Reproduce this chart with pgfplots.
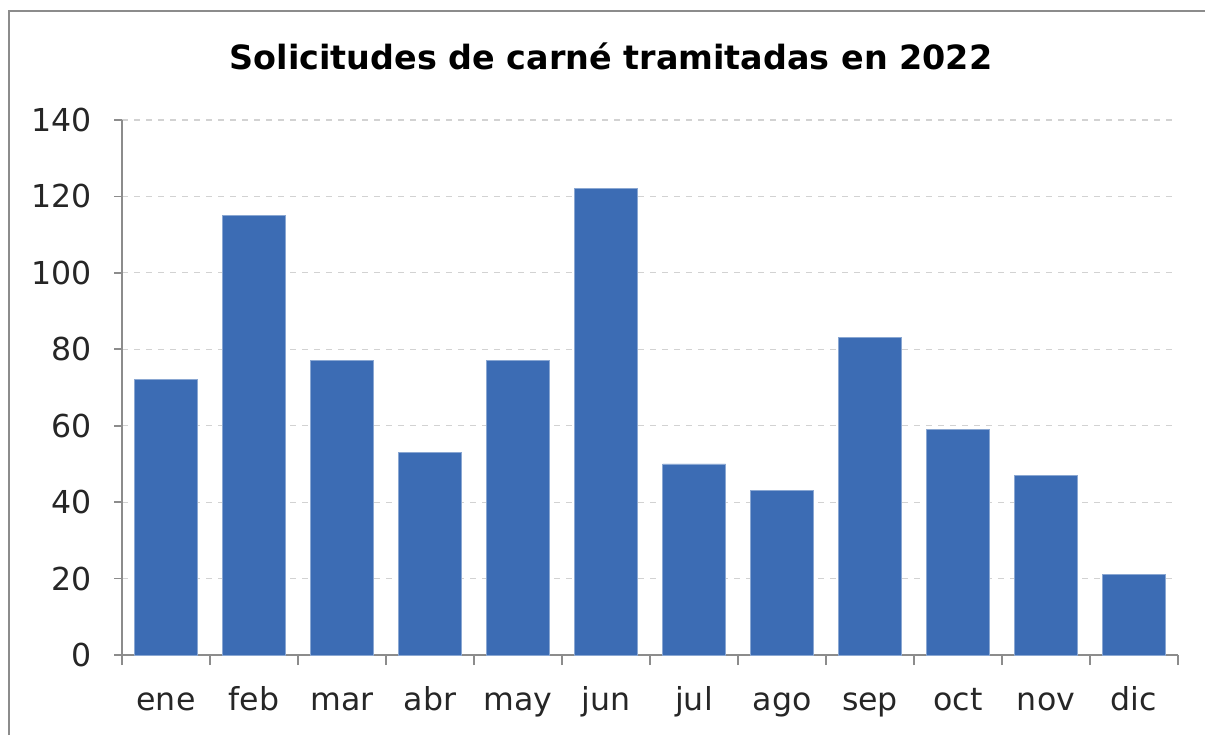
\documentclass[border=0pt]{standalone}
\usepackage{pgfplots}
\pgfplotsset{compat=1.18}
\usepackage{fontspec}
\setmainfont{DejaVu Sans}
\definecolor{barblue}{RGB}{60,108,180}
\definecolor{axgray}{RGB}{140,140,140}
\definecolor{gridgray}{RGB}{210,210,210}
\begin{document}
\begin{tikzpicture}
\useasboundingbox (0,0) rectangle (602.5pt,367.5pt);
\draw[axgray, line width=1pt] (4.5pt,0) -- (4.5pt,362pt) -- (602.5pt,362pt);
\node[font=\bfseries\fontsize{16.7}{19}\selectfont] at (305.5pt,339.5pt) {Solicitudes de carné tramitadas en 2022};
\begin{axis}[
  at={(61pt,40pt)}, anchor=south west,
  scale only axis, width=528pt, height=267.5pt,
  xmin=0.5, xmax=12.5, ymin=0, ymax=140,
  axis lines*=left,
  axis line style={axgray, line width=0.8pt},
  xtick={1,...,12},
  xticklabels={ene,feb,mar,abr,may,jun,jul,ago,sep,oct,nov,dic},
  minor xtick={0.5,1.5,...,12.5},
  ytick={0,20,...,140},
  tick align=outside,
  major x tick style={draw=none},
  minor tick length=5pt, major tick length=4pt,
  tick style={axgray, line width=0.8pt},
  ymajorgrids, grid style={gridgray, dashed, line width=0.6pt},
  ticklabel style={font=\fontsize{15.8}{18}\selectfont, text=black!85},
  /pgf/number format/assume math mode=true,
  yticklabel style={xshift=-7.5pt},
  xticklabel style={anchor=base, yshift=-23.5pt},
  ybar, bar width=31.5pt,
]
\addplot[fill=barblue, draw=barblue!60!white, line width=0.4pt] coordinates {
(1,72) (2,115) (3,77) (4,53) (5,77) (6,122) (7,50) (8,43) (9,83) (10,59) (11,47) (12,21)};
\end{axis}
\end{tikzpicture}
\end{document}
